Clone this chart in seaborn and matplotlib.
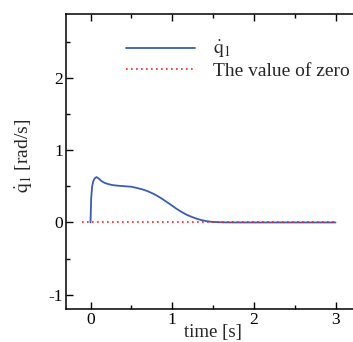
import numpy as np
import pandas as pd
import matplotlib
matplotlib.use("Agg")
import matplotlib.pyplot as plt
import seaborn as sns

# Data
time_s = [0, 0.008, 0.02, 0.032, 0.05, 0.073, 0.1, 0.134, 0.17, 0.216, 0.27, 0.338,
          0.42, 0.5, 0.56, 0.624, 0.69, 0.747, 0.81, 0.869, 0.93, 0.99, 1.05, 1.114,
          1.175, 1.237, 1.3, 1.36, 1.42, 1.48, 1.55, 1.65, 1.8, 2.0, 3.0]
qdot1 = [0, 0.33, 0.50, 0.564, 0.61, 0.629, 0.61, 0.574, 0.55, 0.532, 0.518, 0.509,
         0.502, 0.495, 0.48, 0.462, 0.438, 0.41, 0.373, 0.333, 0.287, 0.24, 0.192, 0.147,
         0.108, 0.078, 0.052, 0.032, 0.018, 0.009, 0.004, 0.001, 0, 0, 0]
zero_t = [-0.1, 3.0]
zero_v = [0, 0]

x_ticks = [0, 1, 2, 3]
y_ticks = [-1, 0, 1, 2]

sns.set_style("ticks")
plt.rcParams['font.family'] = ['Liberation Serif', 'DejaVu Serif']
plt.rcParams['mathtext.fontset'] = 'stix'
plt.rcParams['axes.unicode_minus'] = False

fig = plt.figure(figsize=(3.53, 3.42), dpi=100)
W, H = 353, 342
left, right, top, bottom = 66, 360, 14, 309
ax = fig.add_axes([left / W, (H - bottom) / H, (right - left) / W, (bottom - top) / H])

df1 = pd.DataFrame({"t": time_s, "v": qdot1})
df0 = pd.DataFrame({"t": zero_t, "v": zero_v})
sns.lineplot(data=df1, x="t", y="v", ax=ax, color="#3b5cb0", lw=1.3,
             label=r"$\dot{\mathrm{q}}_1$", estimator=None, sort=False)
sns.lineplot(data=df0, x="t", y="v", ax=ax, color="#ff2020", lw=1.2,
             linestyle=(0, (1, 2)), label="The value of zero", estimator=None, sort=False)

ax.set_xlim(-0.3, 3.3)
ax.set_ylim(-1.2, 2.89)
ax.set_xticks(x_ticks)
ax.set_yticks(y_ticks)
ax.set_xticklabels([str(v) for v in x_ticks])
ax.set_yticklabels([str(v) for v in y_ticks])
ax.set_xticks([0.5, 1.5, 2.5], minor=True)
ax.set_yticks([-0.5, 0.5, 1.5, 2.5], minor=True)
ax.tick_params(which='both', direction='in', top=True, right=True, width=1, colors='black')
ax.tick_params(which='major', length=5, labelsize=12.5, pad=2)
ax.tick_params(which='minor', length=3)
for s in ax.spines.values():
    s.set_linewidth(1.1)
    s.set_color('black')

ax.set_xlabel("time [s]", fontsize=13.5, labelpad=-3)
ax.set_ylabel(r"$\dot{\mathrm{q}}_1$ [rad/s]", fontsize=14)
ax.yaxis.set_label_coords(-0.105, 0.52)

leg = ax.legend(loc='upper left', bbox_to_anchor=(126 / W, 1 - 39 / H),
                bbox_transform=fig.transFigure, frameon=False, fontsize=14,
                handlelength=3.55, handletextpad=0.9, labelspacing=0.1, borderpad=0,
                borderaxespad=0)

fig.savefig("out.png", dpi=100)
